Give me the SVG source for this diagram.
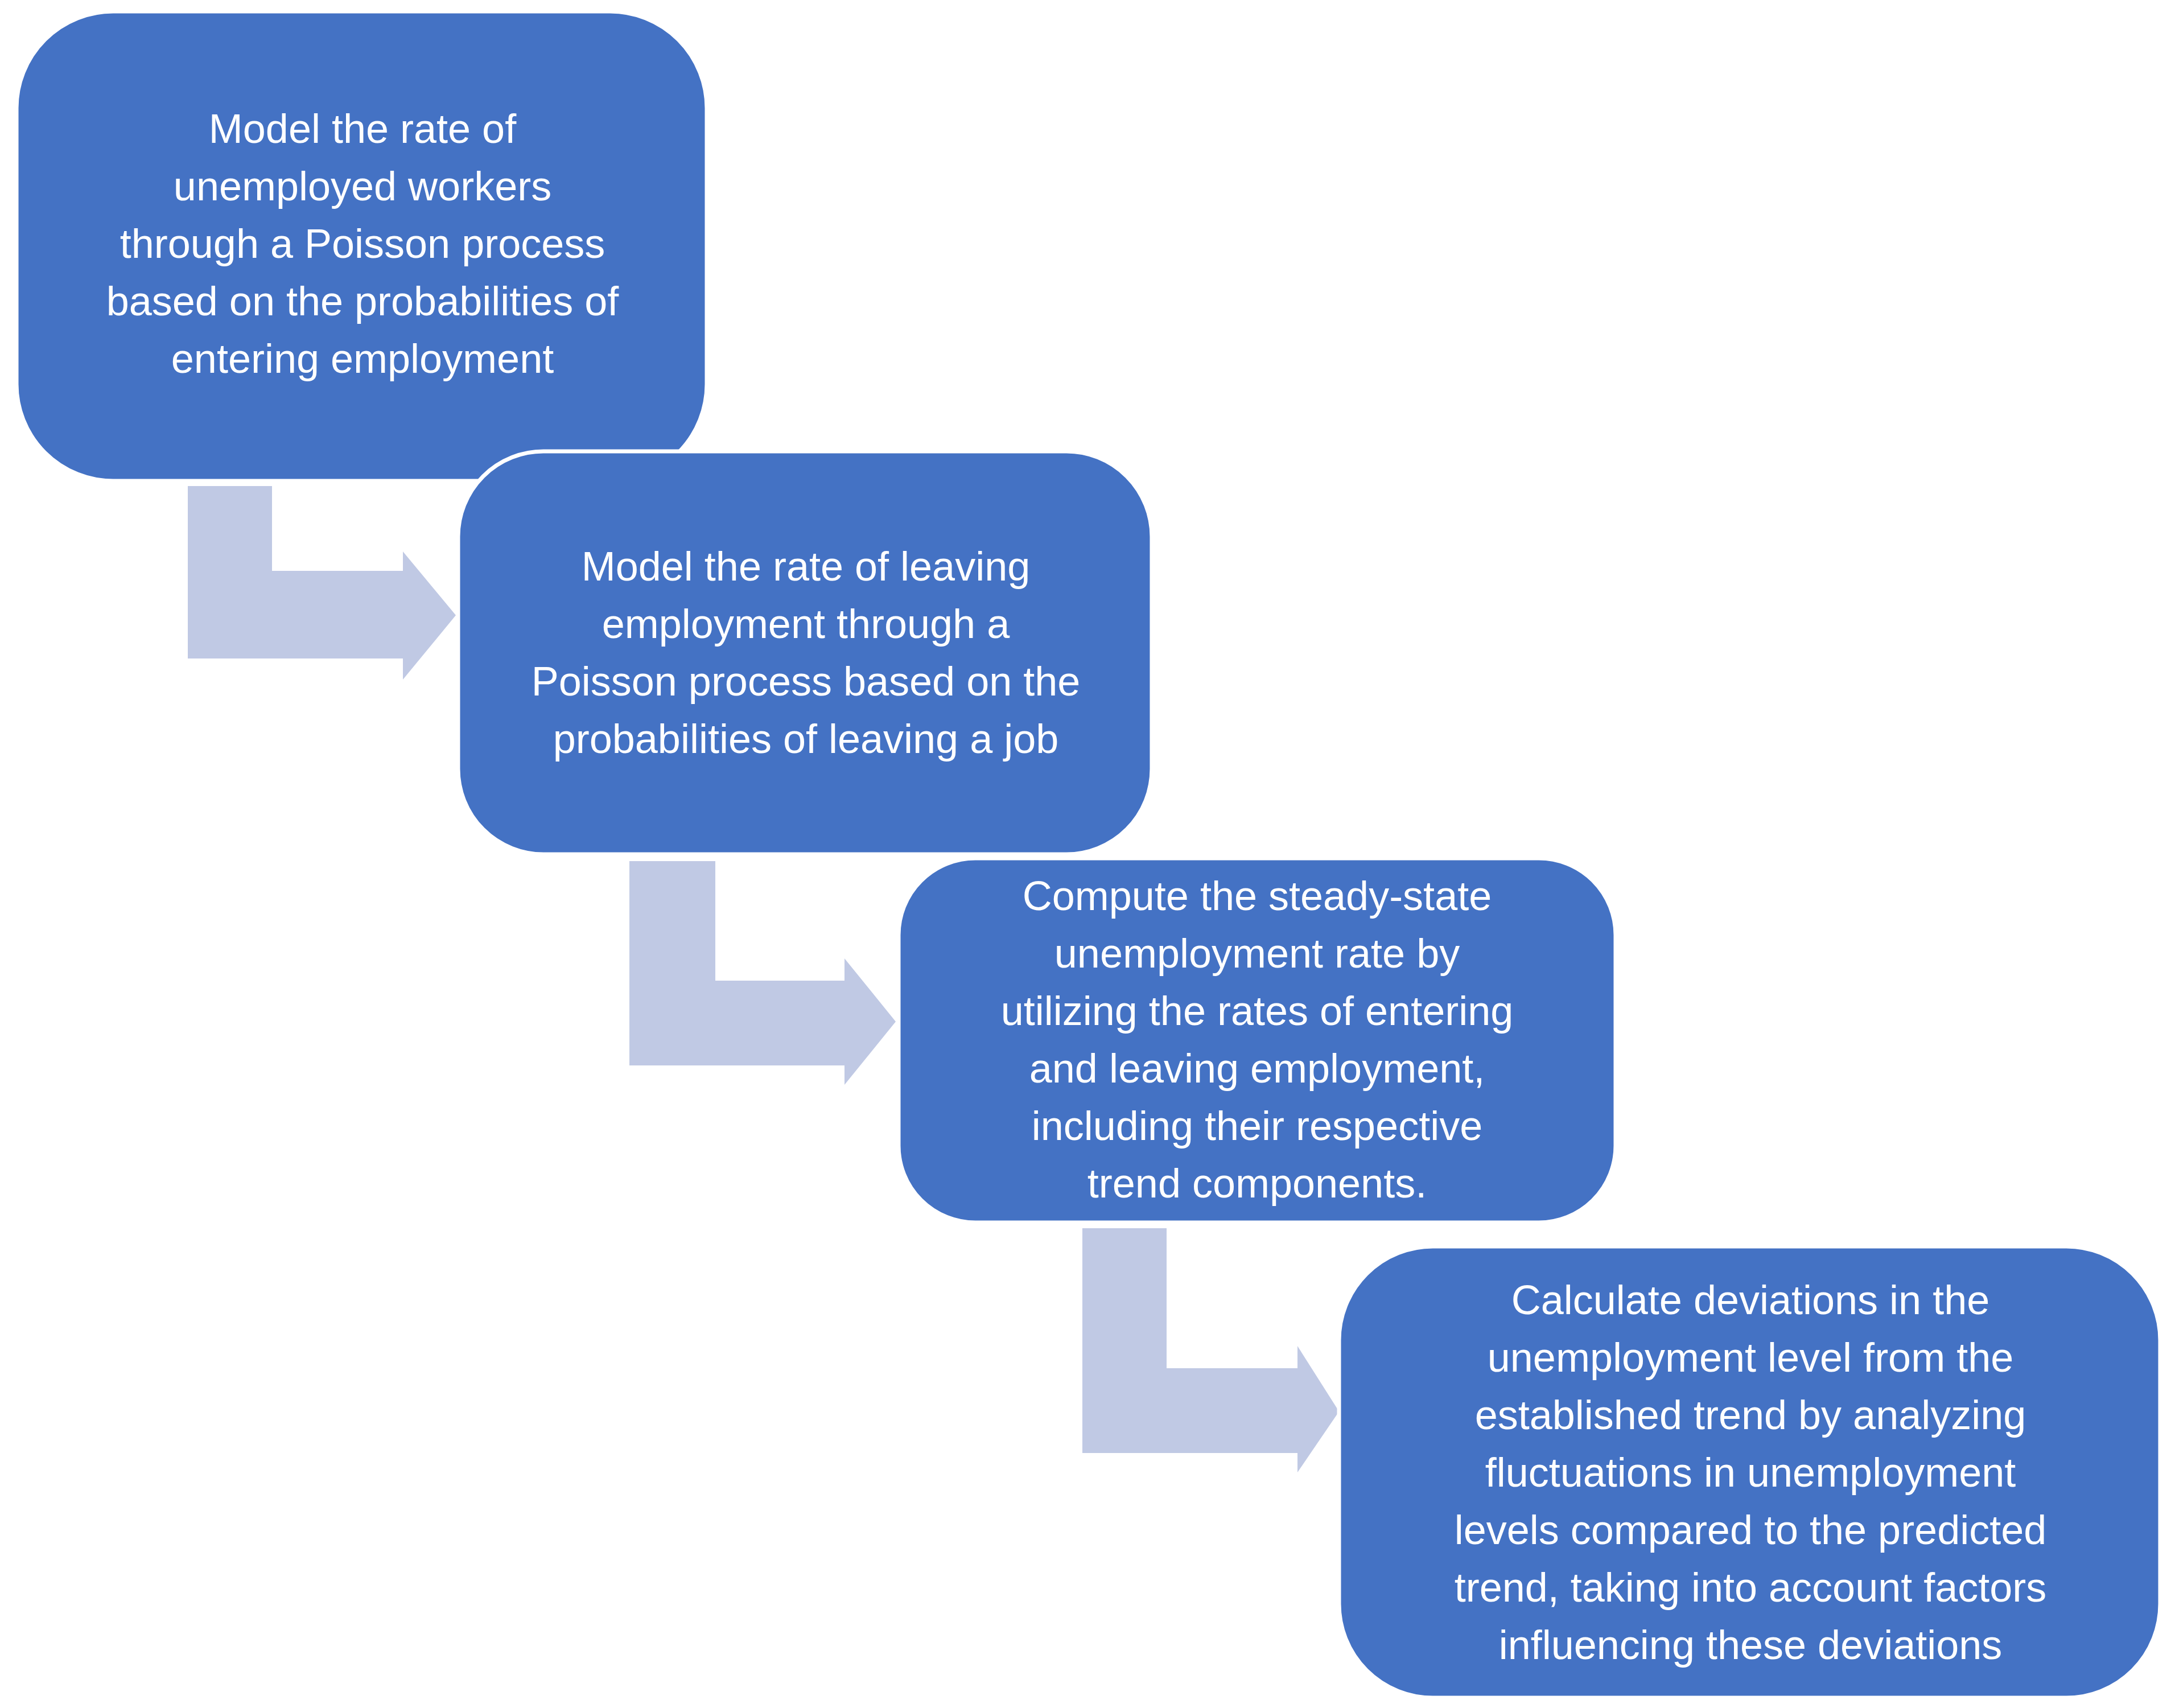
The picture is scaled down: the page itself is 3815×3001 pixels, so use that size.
<svg xmlns="http://www.w3.org/2000/svg" width="3815" height="3001" viewBox="0 0 3815 3001">
<style>
.box{fill:#4472C4;stroke:#FFFFFF;stroke-width:7}
.arr{fill:#C0C9E4}
.t{font-family:"Liberation Sans","Noto Sans",sans-serif;font-size:72px;fill:#FFFFFF;text-anchor:middle}
</style>
<rect width="3815" height="3001" fill="#FFFFFF"/>
<g id="connectors">
<path class="arr" d="M330 854H478V1003H708V969L801 1081L708 1194V1157H330Z"/>
<path class="arr" d="M1106 1513H1257V1723H1484V1684L1574 1795L1484 1906V1872H1106Z"/>
<path class="arr" d="M1902 2158H2050V2404H2280V2365L2353 2480L2280 2587V2553H1902Z"/>
</g>
<g id="node1">
<rect class="box" x="29" y="20" width="1213" height="825" rx="170"/>
<text class="t"><tspan x="637" y="251">Model the rate of</tspan><tspan x="637" y="352">unemployed workers</tspan><tspan x="637" y="453">through a Poisson process</tspan><tspan x="637" y="554">based on the probabilities of</tspan><tspan x="637" y="655">entering employment</tspan></text>
</g>
<g id="node2">
<rect class="box" x="805" y="793" width="1219" height="708" rx="150"/>
<text class="t"><tspan x="1416" y="1020">Model the rate of leaving</tspan><tspan x="1416" y="1121">employment through a</tspan><tspan x="1416" y="1222">Poisson process based on the</tspan><tspan x="1416" y="1323">probabilities of leaving a job</tspan></text>
</g>
<g id="node3">
<rect class="box" x="1579" y="1508" width="1260" height="640" rx="135"/>
<text class="t"><tspan x="2209" y="1599">Compute the steady-state</tspan><tspan x="2209" y="1700">unemployment rate by</tspan><tspan x="2209" y="1801">utilizing the rates of entering</tspan><tspan x="2209" y="1902">and leaving employment,</tspan><tspan x="2209" y="2003">including their respective</tspan><tspan x="2209" y="2104">trend components.</tspan></text>
</g>
<g id="node4">
<rect class="box" x="2353" y="2190" width="1443" height="793" rx="165"/>
<text class="t"><tspan x="3076" y="2309">Calculate deviations in the</tspan><tspan x="3076" y="2410">unemployment level from the</tspan><tspan x="3076" y="2511">established trend by analyzing</tspan><tspan x="3076" y="2612">fluctuations in unemployment</tspan><tspan x="3076" y="2713">levels compared to the predicted</tspan><tspan x="3076" y="2814">trend, taking into account factors</tspan><tspan x="3076" y="2915">influencing these deviations</tspan></text>
</g>
</svg>
